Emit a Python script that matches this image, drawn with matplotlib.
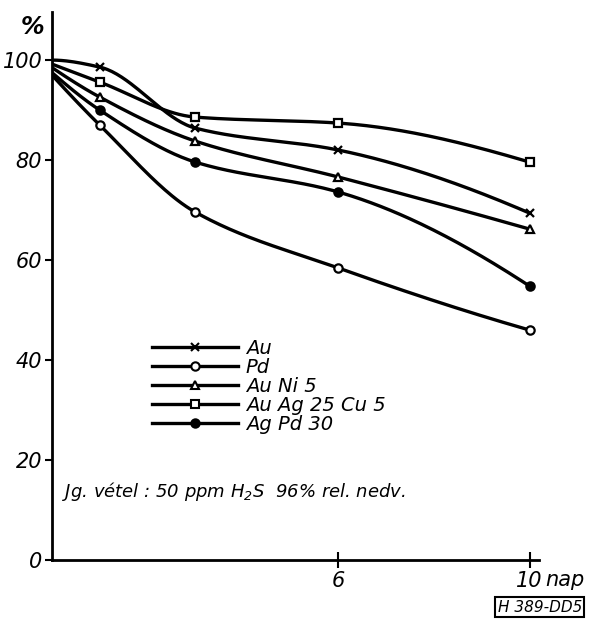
import numpy as np
import matplotlib
matplotlib.use("Agg")
import matplotlib.pyplot as plt
from matplotlib.lines import Line2D

# days of exposure and remaining reflectance (%)
days = [0, 1, 3, 6, 10]
au = [100, 98.6, 86.4, 82.0, 69.4]
pd_ = [97.0, 87.0, 69.6, 58.4, 46.0]
auni5 = [98.5, 92.6, 83.8, 76.6, 66.2]
auag25cu5 = [99.2, 95.6, 88.6, 87.4, 79.6]
agpd30 = [97.5, 90.0, 79.6, 73.6, 54.8]

labels = ["Au", "Pd", "Au Ni 5", "Au Ag 25 Cu 5", "Ag Pd 30"]
series = [au, pd_, auni5, auag25cu5, agpd30]
markers = ["x", "o", "^", "s", "o"]
fills = ["black", "white", "white", "white", "black"]

plt.rcParams["font.family"] = "DejaVu Sans"
plt.rcParams["font.style"] = "italic"


def pchip(x, y, num=200):
    # monotone cubic (Fritsch-Carlson), only used to draw the smooth curve
    x = np.asarray(x, float)
    y = np.asarray(y, float)
    h = np.diff(x)
    d = np.diff(y) / h
    n = len(x)
    m = np.zeros(n)
    for i in range(1, n - 1):
        if d[i - 1] * d[i] > 0:
            w1 = 2 * h[i] + h[i - 1]
            w2 = h[i] + 2 * h[i - 1]
            m[i] = (w1 + w2) / (w1 / d[i - 1] + w2 / d[i])
    m[0] = ((2 * h[0] + h[1]) * d[0] - h[0] * d[1]) / (h[0] + h[1])
    if m[0] * d[0] <= 0:
        m[0] = 0
    m[-1] = ((2 * h[-1] + h[-2]) * d[-1] - h[-1] * d[-2]) / (h[-1] + h[-2])
    if m[-1] * d[-1] <= 0:
        m[-1] = 0
    xs = np.linspace(x[0], x[-1], num)
    ys = np.zeros_like(xs)
    for k, xv in enumerate(xs):
        i = min(np.searchsorted(x, xv, side="right") - 1, n - 2)
        t = (xv - x[i]) / h[i]
        h00 = 2 * t ** 3 - 3 * t ** 2 + 1
        h10 = t ** 3 - 2 * t ** 2 + t
        h01 = -2 * t ** 3 + 3 * t ** 2
        h11 = t ** 3 - t ** 2
        ys[k] = h00 * y[i] + h10 * h[i] * m[i] + h01 * y[i + 1] + h11 * h[i] * m[i + 1]
    return xs, ys


fig = plt.figure(figsize=(5.94, 6.24), dpi=100)
ax = fig.add_axes([0.0875, 0.1026, 0.82, 0.878])

for vals, m, fc in zip(series, markers, fills):
    xs, ys = pchip(days, vals)
    ax.plot(xs, ys, color="black", lw=2.4)
    ax.plot(days[1:], vals[1:], ls="none", marker=m, ms=6,
            mfc=fc, mec="black", mew=1.6)

ax.set_xlim(0, 10.2)
ax.set_ylim(0, 109.6)
ax.spines["top"].set_visible(False)
ax.spines["right"].set_visible(False)
ax.spines["left"].set_linewidth(2)
ax.spines["bottom"].set_linewidth(2)
ax.set_yticks([0, 20, 40, 60, 80, 100])
ax.set_yticklabels(["0", "20", "40", "60", "80", "100"])
ax.set_xticks([6, 10])
ax.set_xticklabels(["6", "10"])
ax.tick_params(axis="y", direction="out", length=5, width=1.5,
               labelsize=15, pad=2)
ax.tick_params(axis="x", direction="inout", length=12, width=1.5,
               labelsize=15, pad=2)

fig.text(0.035, 0.945, "%", fontsize=17, fontweight="bold", ha="left")
ax.text(10.32, -4.0, "nap", fontsize=15, ha="left", va="center")

handles = [Line2D([], [], color="black", lw=2.4, marker=m, ms=6,
                  mfc=fc, mec="black", mew=1.5)
           for m, fc in zip(markers, fills)]
fig.legend(handles, labels, loc="upper left",
           bbox_to_anchor=(0.24, 0.472), frameon=False, fontsize=14,
           handlelength=4.4, handletextpad=0.4, labelspacing=0.0,
           borderpad=0, numpoints=1)

ax.text(0.2, 13.6, "Jg. vétel : 50 ppm H$_2$S  96% rel. nedv.",
        fontsize=13, ha="left", va="center")

fig.text(0.98, 0.015, "H 389-DD5", fontsize=11, ha="right", va="bottom",
         bbox=dict(boxstyle="square,pad=0.15", fc="white", ec="black", lw=1.5))

fig.savefig("out.png", dpi=100)
